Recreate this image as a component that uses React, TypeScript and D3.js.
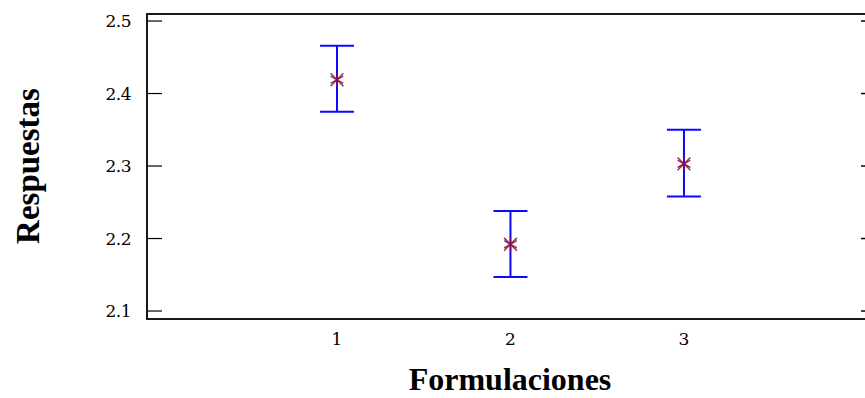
import * as d3 from 'd3';
import { useRef, useEffect } from 'react';

// values
const formulaciones = [1, 2, 3];
const medias = [2.419, 2.192, 2.303];
const limiteSup = [2.466, 2.238, 2.35];
const limiteInf = [2.375, 2.147, 2.258];
const yTicks = [2.1, 2.2, 2.3, 2.4, 2.5];

const width = 865;
const height = 398;

const App: React.FC = () => {
  const ref = useRef<SVGSVGElement>(null);

  useEffect(() => {
    if (!ref.current) return;
    const svg = d3.select(ref.current);
    svg.selectAll('*').remove();

    const left = 147, right = 867, top = 14, bottom = 319;

    const x = d3.scaleLinear().domain([-0.095, 4.055]).range([left, right]);
    const y = d3.scaleLinear().domain([2.089, 2.5097]).range([bottom, top]);

    // frame
    svg.append('rect')
      .attr('x', left).attr('y', top)
      .attr('width', right - left).attr('height', bottom - top)
      .attr('fill', 'none').attr('stroke', '#000').attr('stroke-width', 1.8);

    // y ticks (left, inward) and short ones on the right
    const g = svg.append('g');
    g.selectAll('line.l').data(yTicks).join('line')
      .attr('class', 'l')
      .attr('x1', left).attr('x2', left + 15)
      .attr('y1', d => y(d)).attr('y2', d => y(d))
      .attr('stroke', '#000').attr('stroke-width', 1.2);
    g.selectAll('line.r').data(yTicks).join('line')
      .attr('class', 'r')
      .attr('x1', 861).attr('x2', right)
      .attr('y1', d => y(d)).attr('y2', d => y(d))
      .attr('stroke', '#000').attr('stroke-width', 1.5);

    g.selectAll('text.yt').data(yTicks).join('text')
      .attr('class', 'yt')
      .attr('x', 131).attr('y', d => y(d))
      .attr('dy', '0.36em')
      .attr('text-anchor', 'end')
      .attr('font-family', 'DejaVu Serif, serif')
      .attr('font-size', 17)
      .attr('letter-spacing', -0.5)
      .text(d => d3.format('.1f')(d));

    g.selectAll('text.xt').data(formulaciones).join('text')
      .attr('class', 'xt')
      .attr('x', d => x(d)).attr('y', 345)
      .attr('text-anchor', 'middle')
      .attr('font-family', 'DejaVu Serif, serif')
      .attr('font-size', 17)
      .text(d => d);

    // error bars
    const cap = 17;
    const bars = svg.append('g').attr('stroke', '#0a0aff').attr('stroke-width', 2);
    formulaciones.forEach((f, i) => {
      const cx = x(f);
      bars.append('line').attr('x1', cx).attr('x2', cx).attr('y1', y(limiteSup[i])).attr('y2', y(limiteInf[i]));
      bars.append('line').attr('x1', cx - cap).attr('x2', cx + cap).attr('y1', y(limiteSup[i])).attr('y2', y(limiteSup[i]));
      bars.append('line').attr('x1', cx - cap).attr('x2', cx + cap).attr('y1', y(limiteInf[i])).attr('y2', y(limiteInf[i]));
    });

    // asterisk markers for the means
    const star = d3.symbol().type(d3.symbolAsterisk).size(150);
    const star2 = d3.symbol().type(d3.symbolTimes).size(110);
    const marks = svg.append('g')
      .attr('fill', 'none')
      .attr('stroke', '#85104a')
      .attr('stroke-width', 1.5)
      .attr('stroke-opacity', 0.85);
    marks.selectAll('path.a').data(formulaciones).join('path')
      .attr('class', 'a')
      .attr('transform', (d, i) => `translate(${x(d)},${y(medias[i])})`)
      .attr('d', star() as string);
    marks.selectAll('path.b').data(formulaciones).join('path')
      .attr('class', 'b')
      .attr('transform', (d, i) => `translate(${x(d)},${y(medias[i])})`)
      .attr('d', star2() as string);

    // axis titles
    svg.append('text')
      .attr('x', 510).attr('y', 390)
      .attr('text-anchor', 'middle')
      .attr('font-family', 'Liberation Serif, serif')
      .attr('font-size', 32)
      .attr('font-weight', 'bold')
      .text('Formulaciones');
    svg.append('text')
      .attr('transform', 'translate(39,166) rotate(-90)')
      .attr('text-anchor', 'middle')
      .attr('font-family', 'Liberation Serif, serif')
      .attr('font-size', 33)
      .attr('font-weight', 'bold')
      .text('Respuestas');
  }, []);

  return <svg ref={ref} width={width} height={height} style={{ position: 'absolute', left: 0, top: 0 }}></svg>;
};

export default App;
